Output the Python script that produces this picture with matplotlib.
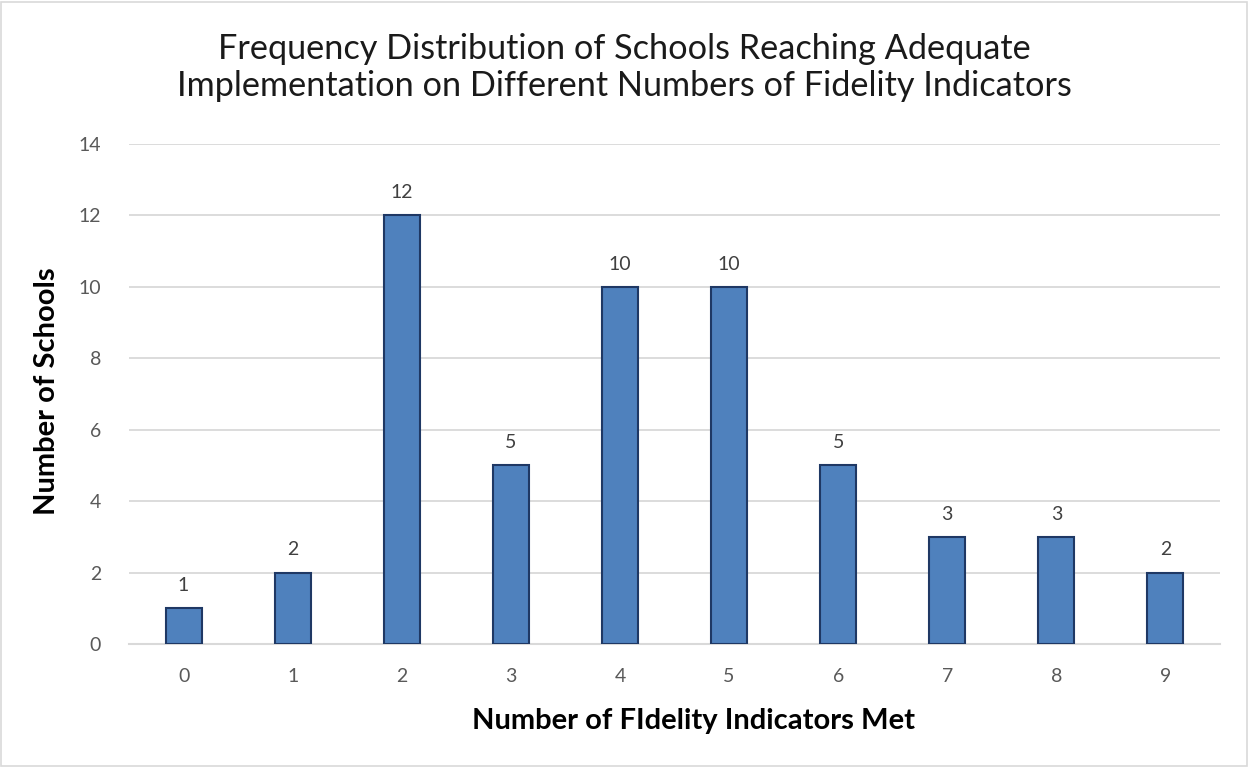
import matplotlib.pyplot as plt
import matplotlib.patches as patches

# indicators met vs number of schools
categories = ['0', '1', '2', '3', '4', '5', '6', '7', '8', '9']
schools = [1, 2, 12, 5, 10, 10, 5, 3, 3, 2]
y_ticks = [0, 2, 4, 6, 8, 10, 12, 14]

plt.rcParams['font.family'] = ['Lato', 'DejaVu Sans']

fig = plt.figure(figsize=(12.49, 7.67), dpi=100)
ax = fig.add_axes([0.1033, 0.1604, 0.8735, 0.6519])

x = range(len(categories))
bars = ax.bar(x, schools, width=0.33, color='#4F81BD', edgecolor='#1F3864',
              linewidth=1.5, zorder=3)
for xi, v in zip(x, schools):
    ax.text(xi, v + 0.4, str(v), ha='center', va='bottom', fontsize=14, color='#404040')

ax.set_xlim(-0.5, len(categories) - 0.5)
ax.set_ylim(0, 14)
ax.set_yticks(y_ticks)
ax.set_xticks(list(x))
ax.set_xticklabels(categories)
ax.tick_params(axis='both', length=0, labelsize=14, labelcolor='#595959')
ax.tick_params(axis='y', pad=20)
ax.tick_params(axis='x', pad=17)
ax.grid(axis='y', color='#D9D9D9', linewidth=1.3, zorder=0)
for s in ['top', 'right', 'left']:
    ax.spines[s].set_visible(False)
ax.spines['bottom'].set_color('#D9D9D9')
ax.spines['bottom'].set_linewidth(1.5)

ax.set_ylabel('Number of Schools', fontsize=21, fontweight='bold', color='#000000')
ax.set_xlabel('Number of FIdelity Indicators Met', fontsize=21, fontweight='bold',
              color='#000000')
ax.yaxis.label.set_va('center')
ax.xaxis.label.set_va('center')
ax.yaxis.set_label_coords(-0.0752, 0.505)
ax.xaxis.set_label_coords(0.5174, -0.155)

fig.text(0.5, 0.912, 'Frequency Distribution of Schools Reaching Adequate\n'
         'Implementation on Different Numbers of Fidelity Indicators',
         ha='center', va='center', fontsize=24.7, color='#1A1A1A', linespacing=1.2)

# chart border
fig.patches.append(patches.Rectangle((0.001, 0.001), 0.997, 0.997, transform=fig.transFigure,
                                     fill=False, edgecolor='#D9D9D9', linewidth=1.2))

fig.savefig('out.png', dpi=100)
